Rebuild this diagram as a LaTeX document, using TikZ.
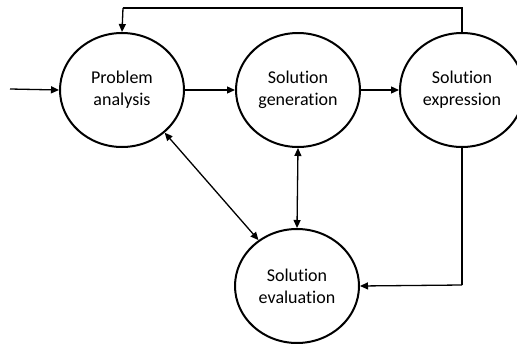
\documentclass[tikz,border=0pt]{standalone}
\usepackage{fontspec}
\setmainfont[RawFeature={-liga;-clig;-dlig;-calt;-rlig}]{Carlito}
\usepackage{tikz}
\usetikzlibrary{shapes.geometric, arrows.meta, positioning}
\tikzset{
  stage/.style={ellipse, draw=black, fill=white, line width=2pt,
    minimum width=124pt, minimum height=114pt, inner sep=0pt,
    align=center, font=\fontsize{18}{22}\selectfont},
  arrow/.style={-{Triangle[length=8pt, width=7pt]}, line width=1.3pt},
  biarrow/.style={{Triangle[length=8pt, width=7pt]}-{Triangle[length=8pt, width=7pt]}, line width=1.3pt},
  line/.style={line width=1.3pt}
}
\begin{document}
\begin{tikzpicture}[x=1pt, y=-1pt]
  \useasboundingbox (0,0) rectangle (517,343);
  % Stages
  \node[stage] (analysis) at (122, 90) {Problem\\analysis};
  \node[stage] (generation) at (298, 90) {Solution\\generation};
  \node[stage] (expression) at (462, 90) {Solution\\expression};
  \node[stage] (evaluation) at (297, 286) {Solution\\evaluation};

  % Free ends and corners
  \coordinate (input) at (10, 89);
  \coordinate (topright) at (462, 8);
  \coordinate (topleft) at (123, 8);
  \coordinate (corner) at (462, 285);

  % Paths
  \draw[arrow] (input) -- (analysis.west);
  \draw[arrow] (analysis.east) -- (generation.west);
  \draw[arrow] (generation.east) -- (expression.west);
  \draw[line] (expression.north) -- (topright) -- (topleft);
  \draw[arrow] (topleft) -- (analysis.north);
  \draw[biarrow] (generation.south) -- (evaluation.north);
  \draw[biarrow] (analysis.-45) -- (evaluation.130);
  \draw[line] (expression.south) -- (corner);
  \draw[arrow] (corner) -- (evaluation.east);
\end{tikzpicture}
\end{document}
